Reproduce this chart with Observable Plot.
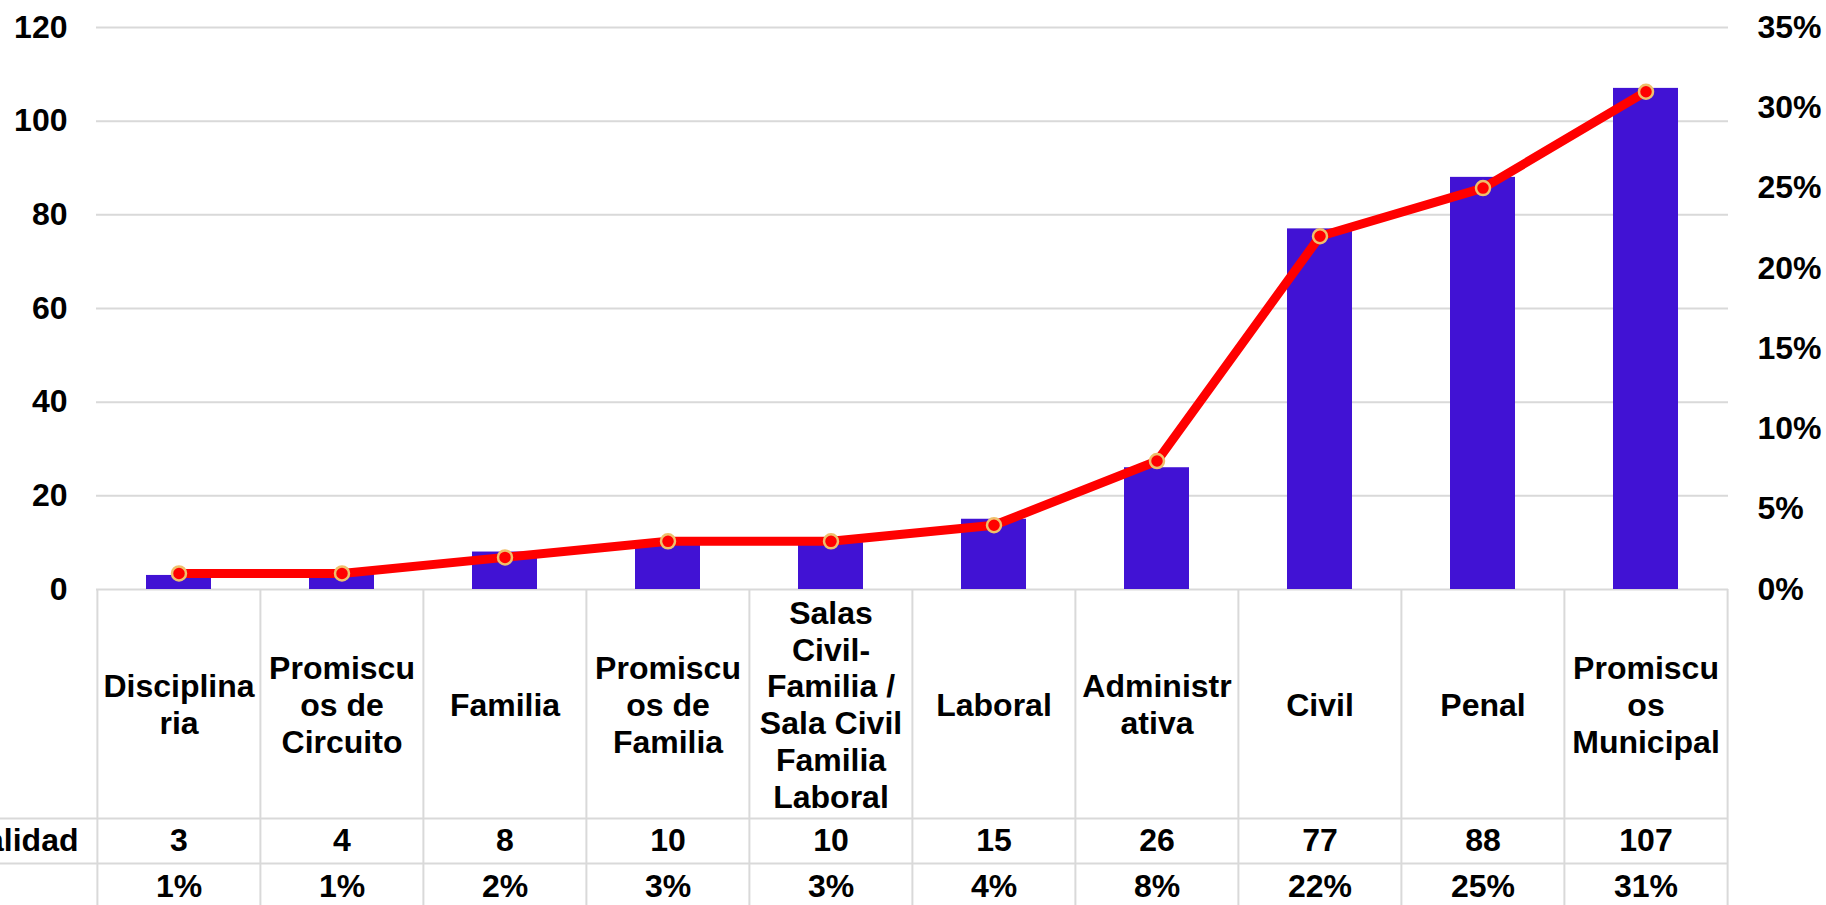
<!DOCTYPE html>
<html><head><meta charset="utf-8">
<script src="https://cdn.jsdelivr.net/npm/d3@7"></script>
<script src="https://cdn.jsdelivr.net/npm/@observablehq/plot@0.6"></script>
<style>html,body{margin:0;padding:0;background:#fff;overflow:hidden}</style>
</head><body><div id="chart"></div>
<script>
const categories = ["Disciplinaria","Promiscuos de Circuito","Familia","Promiscuos de Familia","Salas Civil-Familia / Sala Civil Familia Laboral","Laboral","Administrativa","Civil","Penal","Promiscuos Municipal"];
const tickLabels = ["Disciplina\nria","Promiscu\nos de\nCircuito","Familia","Promiscu\nos de\nFamilia","Salas\nCivil-\nFamilia /\nSala Civil\nFamilia\nLaboral","Laboral","Administr\nativa","Civil","Penal","Promiscu\nos\nMunicipal"];
const counts = [3,4,8,10,10,15,26,77,88,107];
const percents = [1,1,2,3,3,4,8,22,25,31];
const leftTicks = [0,20,40,60,80,100,120];
const rightTicks = [0,5,10,15,20,25,30,35];
const rowLabel = "Totalidad";

const W = 1826, H = 905;
const mL = 96, mR = 98, mT = 27, mB = 316;
const leftMax = 120, rightMax = 35;
const ratio = leftMax / rightMax;
const step = (W - mL - mR) / categories.length;
const frameH = H - mT - mB;
const grid = "#d9d9d9";
const font = {fontSize: 32, fontWeight: "bold", fill: "#000"};

const data = categories.map((c, i) => ({cat: c, label: tickLabels[i], count: counts[i], pct: percents[i]}));

const plot = Plot.plot({
  width: W, height: H,
  marginLeft: mL, marginRight: mR, marginTop: mT, marginBottom: mB,
  style: {fontFamily: "'Liberation Sans', Arial, sans-serif", background: "#fff", color: "#000"},
  x: {type: "band", domain: categories, paddingInner: 0.6, paddingOuter: 0.3, axis: null},
  y: {domain: [0, leftMax], axis: null},
  marks: [
    Plot.gridY(leftTicks, {stroke: grid, strokeWidth: 2, strokeOpacity: 1}),
    // table vertical borders
    Plot.ruleX(data, {x: "cat", dx: -step / 2, stroke: grid, strokeWidth: 2, insetTop: frameH, insetBottom: -mB}),
    Plot.ruleX(data.slice(-1), {x: "cat", dx: step / 2, stroke: grid, strokeWidth: 2, insetTop: frameH, insetBottom: -mB}),
    // table horizontal borders
    Plot.ruleY([0], {dy: 229, stroke: grid, strokeWidth: 2, insetLeft: -mL}),
    Plot.ruleY([0], {dy: 274, stroke: grid, strokeWidth: 2, insetLeft: -mL}),
    Plot.barY(data, {x: "cat", y: "count", fill: "#4112D4"}),
    Plot.line(data, {x: "cat", y: d => d.pct * ratio, stroke: "#ff0000", strokeWidth: 9, strokeLinejoin: "round", strokeLinecap: "round"}),
    Plot.dot(data, {x: "cat", y: d => d.pct * ratio, r: 7, fill: "#ff0000", stroke: "#EFC06C", strokeWidth: 2.5}),
    Plot.axisY(leftTicks, {anchor: "left", tickSize: 0, tickPadding: 29, label: null, ...font}),
    Plot.axisY(rightTicks.map(p => p * ratio), {anchor: "right", tickSize: 0, tickPadding: 29, label: null, tickFormat: d => Math.round(d / ratio) + "%", ...font}),
    // table text
    Plot.text(data, {x: "cat", text: "label", frameAnchor: "bottom", dy: 114.5, lineAnchor: "middle", lineHeight: 1.15, ...font}),
    Plot.text(data, {x: "cat", text: d => String(d.count), frameAnchor: "bottom", dy: 251.5, lineAnchor: "middle", ...font}),
    Plot.text(data, {x: "cat", text: d => d.pct + "%", frameAnchor: "bottom", dy: 297, lineAnchor: "middle", ...font}),
    Plot.text([rowLabel], {frameAnchor: "bottom-left", dx: -18, dy: 251.5, textAnchor: "end", lineAnchor: "middle", ...font})
  ]
});
document.getElementById("chart").appendChild(plot);
</script>
</body></html>
